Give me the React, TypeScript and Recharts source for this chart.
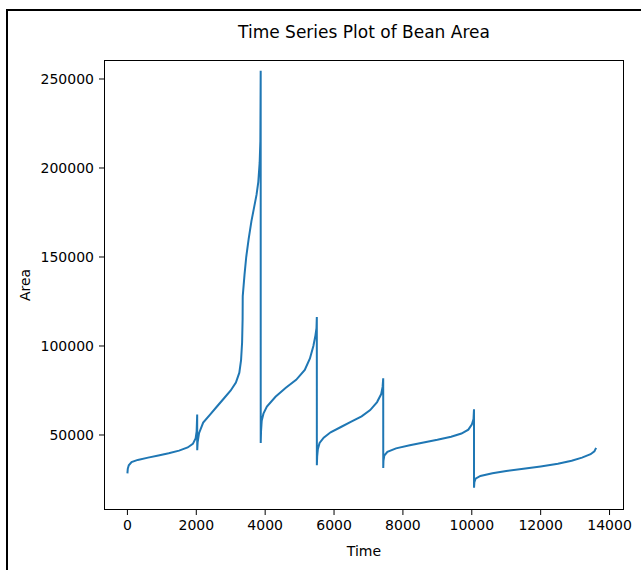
import { LineChart, Line, XAxis, YAxis } from 'recharts';

// bean area per sample index
const sekerTime = [0, 10, 40, 120, 300, 600, 900, 1200, 1500, 1750, 1900, 1980, 2010, 2026];
const sekerArea = [28400, 31000, 33000, 34800, 36000, 37300, 38500, 39700, 41200, 43000, 45000, 48000, 52000, 61500];

const barbunyaTime = [2027, 2040, 2080, 2200, 2400, 2600, 2800, 3000, 3150, 3250, 3300, 3330, 3345, 3348];
const barbunyaArea = [41500, 46000, 51000, 57000, 61500, 66000, 70500, 75000, 79500, 85000, 92000, 102000, 115000, 126000];

const bombayTime = [3349, 3400, 3450, 3520, 3600, 3680, 3750, 3800, 3840, 3860, 3870];
const bombayArea = [128000, 140000, 150000, 160000, 170000, 178000, 185000, 192000, 203000, 215000, 254600];

const caliTime = [3871, 3880, 3900, 3950, 4050, 4300, 4600, 4900, 5150, 5300, 5400, 5460, 5490, 5500];
const caliArea = [45500, 52000, 58000, 62000, 66000, 71500, 76500, 81000, 86500, 93000, 100000, 106000, 110000, 116300];

const horozTime = [5501, 5510, 5530, 5580, 5700, 5900, 6200, 6500, 6800, 7050, 7250, 7370, 7410, 7428];
const horozArea = [33000, 38000, 42000, 45500, 48500, 51500, 54500, 57500, 60500, 64000, 68500, 73000, 77000, 81900];

const siraTime = [7429, 7435, 7460, 7550, 7800, 8200, 8600, 9000, 9400, 9700, 9900, 10000, 10050, 10064];
const siraArea = [31500, 35500, 38500, 40500, 42500, 44200, 45800, 47300, 49000, 50800, 53000, 55800, 59000, 64500];

const dermasonTime = [10065, 10075, 10110, 10250, 10600, 11000, 11500, 12000, 12500, 12900, 13200, 13450, 13560, 13610];
const dermasonArea = [20420, 23500, 25500, 27000, 28500, 29800, 31000, 32300, 33800, 35500, 37300, 39200, 40800, 42800];

const xTicks = [0, 2000, 4000, 6000, 8000, 10000, 12000, 14000];
const yTicks = [50000, 100000, 150000, 200000, 250000];

const segments = [
  [sekerTime, sekerArea],
  [barbunyaTime, barbunyaArea],
  [bombayTime, bombayArea],
  [caliTime, caliArea],
  [horozTime, horozArea],
  [siraTime, siraArea],
  [dermasonTime, dermasonArea],
];

const data = segments.flatMap(([times, areas]) =>
  times.map((t, i) => ({ time: t, area: areas[i] }))
);

const FONT = '"DejaVu Sans", sans-serif';
const tickStyle = { fontSize: 14, fill: '#000', fontFamily: FONT };

// plot box in page pixels
const PLOT = { left: 104, top: 60, right: 624, bottom: 510 };

export default function App() {
  return (
    <div style={{ position: 'absolute', left: 0, top: 0, width: 641, height: 570, background: '#fff' }}>
      {/* outer frame of the screenshot */}
      <div
        style={{
          position: 'absolute',
          left: 6,
          top: 9,
          right: 0,
          bottom: 0,
          borderLeft: '2px solid #000',
          borderTop: '2px solid #000',
        }}
      />
      <div
        style={{
          position: 'absolute',
          left: PLOT.left,
          width: PLOT.right - PLOT.left,
          top: 22,
          textAlign: 'center',
          fontFamily: FONT,
          fontSize: 17,
          color: '#000',
        }}
      >
        Time Series Plot of Bean Area
      </div>
      <div style={{ position: 'absolute', left: 0, top: 0 }}>
        <LineChart
          width={641}
          height={570}
          data={data}
          margin={{ top: PLOT.top, right: 641 - PLOT.right, bottom: 8, left: 8 }}
        >
          <XAxis
            dataKey="time"
            type="number"
            domain={[-680, 14420]}
            ticks={xTicks}
            allowDataOverflow
            axisLine={false}
            tickLine={{ stroke: '#000' }}
            tickSize={5}
            tickMargin={5}
            tick={tickStyle}
            height={570 - PLOT.bottom - 8}
            label={{ value: 'Time', position: 'insideBottom', offset: 6, style: { ...tickStyle } }}
          />
          <YAxis
            dataKey="area"
            type="number"
            domain={[7865, 260674]}
            ticks={yTicks}
            allowDataOverflow
            axisLine={false}
            tickLine={{ stroke: '#000' }}
            tickSize={5}
            tickMargin={5}
            tick={tickStyle}
            width={PLOT.left - 8}
            label={{
              value: 'Area',
              angle: -90,
              position: 'insideLeft',
              offset: 17,
              style: { ...tickStyle, textAnchor: 'middle' },
            }}
          />
          <Line
            type="linear"
            dataKey="area"
            stroke="#1f77b4"
            strokeWidth={2}
            dot={false}
            isAnimationActive={false}
          />
        </LineChart>
      </div>
      {/* axes spines */}
      <div
        style={{
          position: 'absolute',
          left: PLOT.left,
          top: PLOT.top,
          width: PLOT.right - PLOT.left,
          height: PLOT.bottom - PLOT.top,
          boxSizing: 'border-box',
          border: '1px solid #000',
          pointerEvents: 'none',
        }}
      />
    </div>
  );
}
